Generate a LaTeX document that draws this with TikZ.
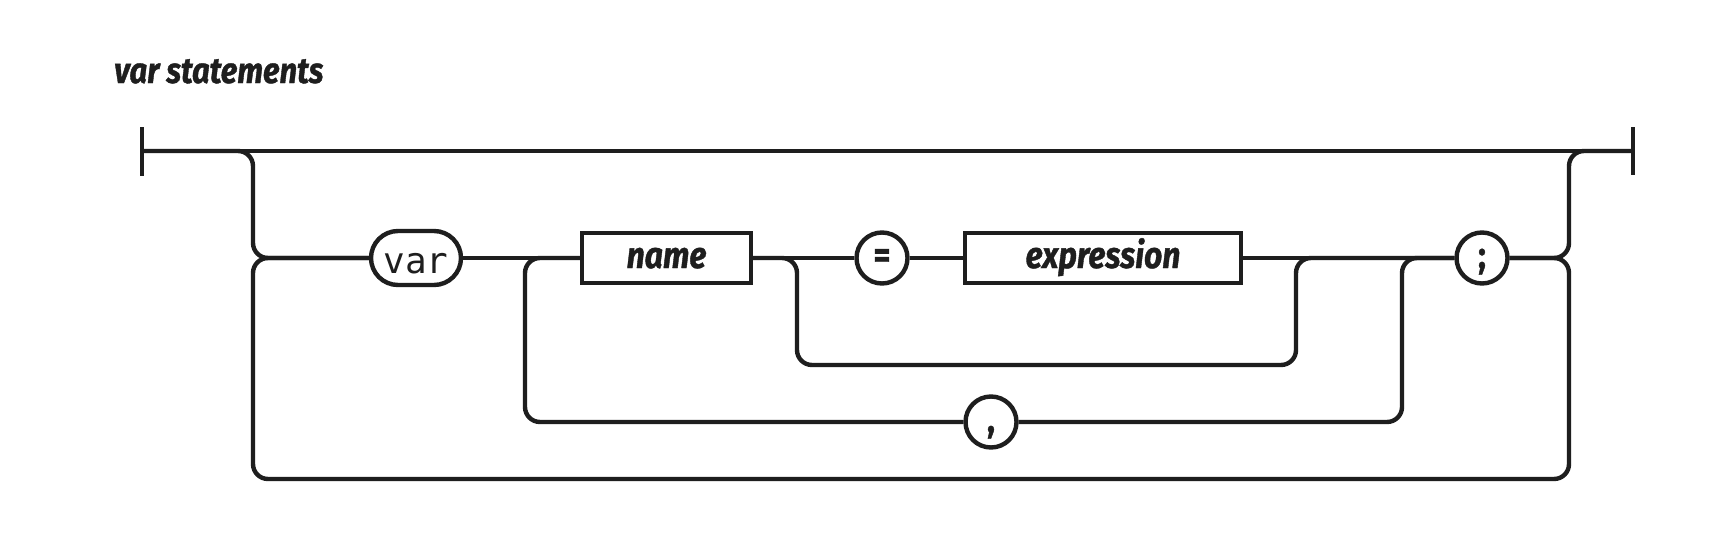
\documentclass[tikz,border=0pt]{standalone}
\usepackage{fontspec}
\setmainfont{Fira Sans}
\setmonofont{DejaVu Sans Mono}
\newfontfamily\railfont[FakeStretch=0.86, FakeBold=1]{Fira Sans}
\usepackage{xcolor}
\usetikzlibrary{calc}
\usetikzlibrary{positioning}
\definecolor{ink}{HTML}{1E1E1E}

\begin{document}
\begin{tikzpicture}[x=1pt, y=-1pt, line width=4.4pt, color=ink]

                \def\r{15pt}
                \def\h{258}

                % Styles of the boxes on the track
                \tikzset{
                    term/.style={draw, circle, minimum size=51pt, inner sep=0pt,
                        text height=26pt, text depth=6pt,
                        font=\railfont\bfseries\fontsize{38}{40}\selectfont},
                    keyword/.style={draw, rounded corners=27pt, minimum width=90pt,
                        minimum height=54pt, inner sep=0pt,
                        text height=32pt, text depth=2pt,
                        font=\ttfamily\fontsize{36}{38}\selectfont},
                    nonterm/.style={draw, rectangle, minimum height=50pt, inner sep=0pt,
                        text height=26pt, text depth=6pt,
                        font=\railfont\bfseries\itshape\fontsize{37}{40}\selectfont}
                }

                \useasboundingbox[fill=white] (0,0) rectangle (1720,538);

                \node[anchor=base west, inner sep=0pt,
                    font=\railfont\bfseries\itshape\fontsize{36}{40}\selectfont]
                    (title) at (112,83) {var statements};

                % Scope used for the boxes of the statement
                \begin{scope}
                    \node[keyword] (var) at (416,\h) {var};
                    \node[nonterm, minimum width=169pt] (name) at (666.5,\h) {name};
                    \node[term] (eq) at (882,\h) {=};
                    \node[nonterm, minimum width=276pt] (expr) at (1103,\h) {expression};
                    \node[term] (semi) at (1482,\h) {;};
                    \node[term] (comma) at (991,422) {,};
                \end{scope}

                % Corners of the loops
                \coordinate (in) at (142,151);
                \coordinate (out) at (1633,151);
                \coordinate (lj) at (253,\h);
                \coordinate (rj) at (1569,\h);
                \coordinate (lb) at (253,479);
                \coordinate (sk1) at (797,365);
                \coordinate (sk2) at (1296,\h);
                \coordinate (cl) at (525,422);
                \coordinate (cr) at (1402,422);

                \begin{scope}
                    \draw ([yshift=24pt]in) -- ([yshift=-25pt]in);
                    \draw ([yshift=24pt]out) -- ([yshift=-24pt]out);
                    \draw (in) -- (out);
                    \draw (var) -- (name) -- (eq) -- (expr) -- (semi);
                \end{scope}

                \begin{scope}[rounded corners=\r]
                    \draw (in) -| (lj) -- (var);
                    \draw (var) -| (lb) -| (rj) -- (semi);
                    \draw (semi) -- (rj) |- (out);
                    \draw (name) -| (sk1) -| (sk2) -- (semi);
                    \draw (semi) -| (cr) -- (comma) -- (cl) |- (name);
                \end{scope}

\end{tikzpicture}
\end{document}
